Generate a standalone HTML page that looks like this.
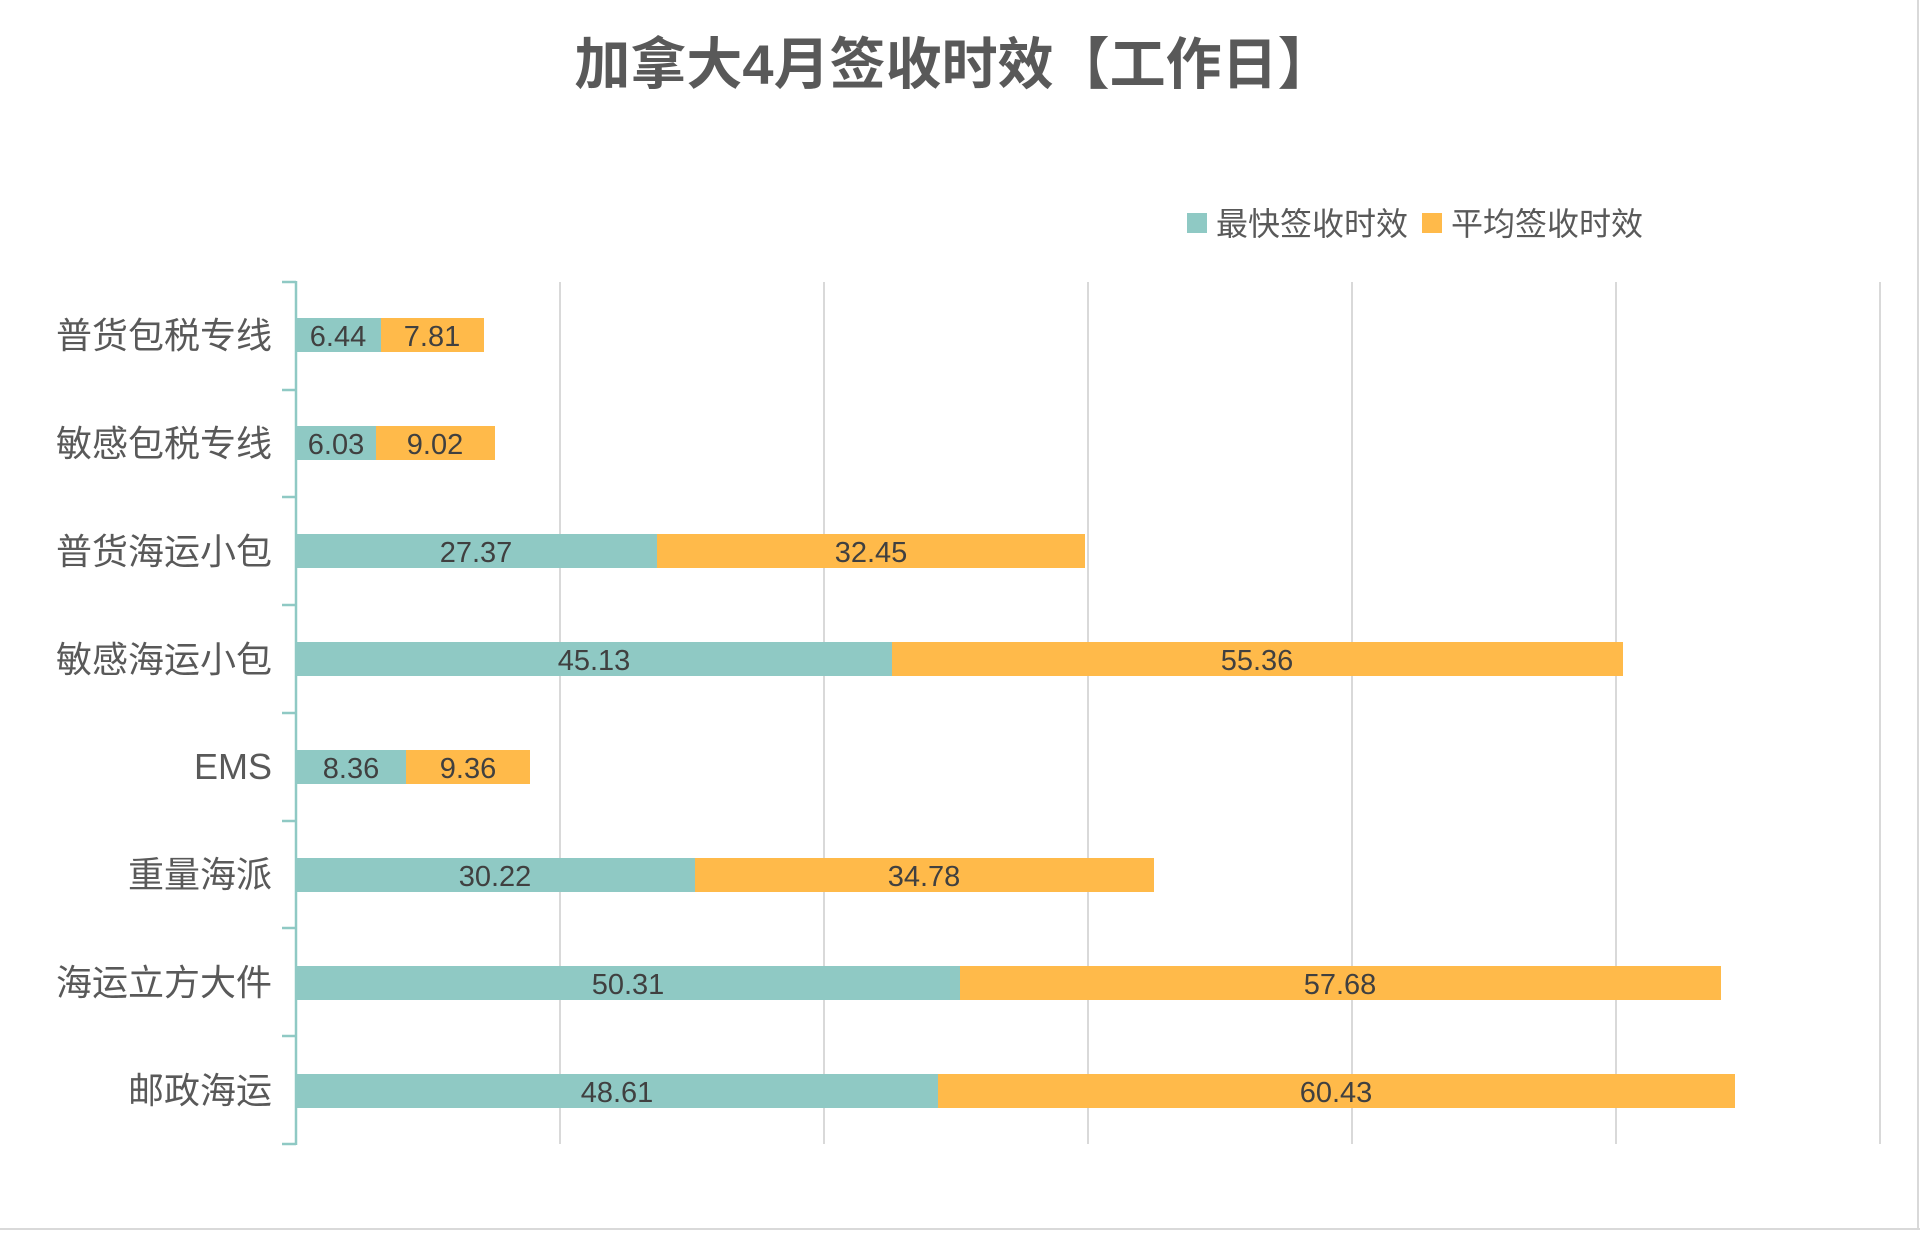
<!DOCTYPE html>
<html><head><meta charset="utf-8"><style>
body{margin:0;background:#fff;}
svg{display:block;}
text{font-family:"Liberation Sans","Noto Sans CJK SC",sans-serif;}
</style></head><body>
<svg width="1920" height="1256" viewBox="0 0 1920 1256" xmlns="http://www.w3.org/2000/svg">
<rect width="1920" height="1256" fill="#fff"/>
<line x1="0" y1="1229" x2="1920" y2="1229" stroke="#d9d9d9" stroke-width="2"/>
<line x1="1918" y1="0" x2="1918" y2="1229" stroke="#d9d9d9" stroke-width="2"/>
<text x="954" y="84" text-anchor="middle" font-size="56" font-weight="bold" fill="#595959">加拿大4月签收时效【工作日】</text>
<rect x="1187" y="213" width="20" height="20" fill="#8FC9C4"/>
<text x="1216" y="235" font-size="32" fill="#595959">最快签收时效</text>
<rect x="1422" y="213" width="20" height="20" fill="#FFBA4A"/>
<text x="1451" y="235" font-size="32" fill="#595959">平均签收时效</text>
<g stroke="#d9d9d9" stroke-width="2">
<line x1="560" y1="282" x2="560" y2="1144"/>
<line x1="824" y1="282" x2="824" y2="1144"/>
<line x1="1088" y1="282" x2="1088" y2="1144"/>
<line x1="1352" y1="282" x2="1352" y2="1144"/>
<line x1="1616" y1="282" x2="1616" y2="1144"/>
<line x1="1880" y1="282" x2="1880" y2="1144"/>
</g>
<g font-size="29" fill="#404040" text-anchor="middle">
<rect x="296" y="318" width="85" height="34" fill="#8FC9C4"/><rect x="381" y="318" width="103" height="34" fill="#FFBA4A"/>
<text x="338" y="346">6.44</text><text x="432" y="346">7.81</text>
<rect x="296" y="426" width="80" height="34" fill="#8FC9C4"/><rect x="376" y="426" width="119" height="34" fill="#FFBA4A"/>
<text x="336" y="454">6.03</text><text x="435" y="454">9.02</text>
<rect x="296" y="534" width="361" height="34" fill="#8FC9C4"/><rect x="657" y="534" width="428" height="34" fill="#FFBA4A"/>
<text x="476" y="562">27.37</text><text x="871" y="562">32.45</text>
<rect x="296" y="642" width="596" height="34" fill="#8FC9C4"/><rect x="892" y="642" width="731" height="34" fill="#FFBA4A"/>
<text x="594" y="670">45.13</text><text x="1257" y="670">55.36</text>
<rect x="296" y="750" width="110" height="34" fill="#8FC9C4"/><rect x="406" y="750" width="124" height="34" fill="#FFBA4A"/>
<text x="351" y="778">8.36</text><text x="468" y="778">9.36</text>
<rect x="296" y="858" width="399" height="34" fill="#8FC9C4"/><rect x="695" y="858" width="459" height="34" fill="#FFBA4A"/>
<text x="495" y="886">30.22</text><text x="924" y="886">34.78</text>
<rect x="296" y="966" width="664" height="34" fill="#8FC9C4"/><rect x="960" y="966" width="761" height="34" fill="#FFBA4A"/>
<text x="628" y="994">50.31</text><text x="1340" y="994">57.68</text>
<rect x="296" y="1074" width="642" height="34" fill="#8FC9C4"/><rect x="938" y="1074" width="797" height="34" fill="#FFBA4A"/>
<text x="617" y="1102">48.61</text><text x="1336" y="1102">60.43</text>
</g>
<g stroke="#8FC9C4" stroke-width="2.5">
<line x1="296" y1="281" x2="296" y2="1145"/>
<line x1="282" y1="282" x2="296" y2="282"/>
<line x1="282" y1="390" x2="296" y2="390"/>
<line x1="282" y1="497" x2="296" y2="497"/>
<line x1="282" y1="605" x2="296" y2="605"/>
<line x1="282" y1="713" x2="296" y2="713"/>
<line x1="282" y1="821" x2="296" y2="821"/>
<line x1="282" y1="928" x2="296" y2="928"/>
<line x1="282" y1="1036" x2="296" y2="1036"/>
<line x1="282" y1="1144" x2="296" y2="1144"/>
</g>
<g font-size="36" fill="#595959" text-anchor="end">
<text x="272" y="348">普货包税专线</text>
<text x="272" y="456">敏感包税专线</text>
<text x="272" y="564">普货海运小包</text>
<text x="272" y="672">敏感海运小包</text>
<text x="272" y="779">EMS</text>
<text x="272" y="887">重量海派</text>
<text x="272" y="995">海运立方大件</text>
<text x="272" y="1103">邮政海运</text>
</g>
</svg>
</body></html>
